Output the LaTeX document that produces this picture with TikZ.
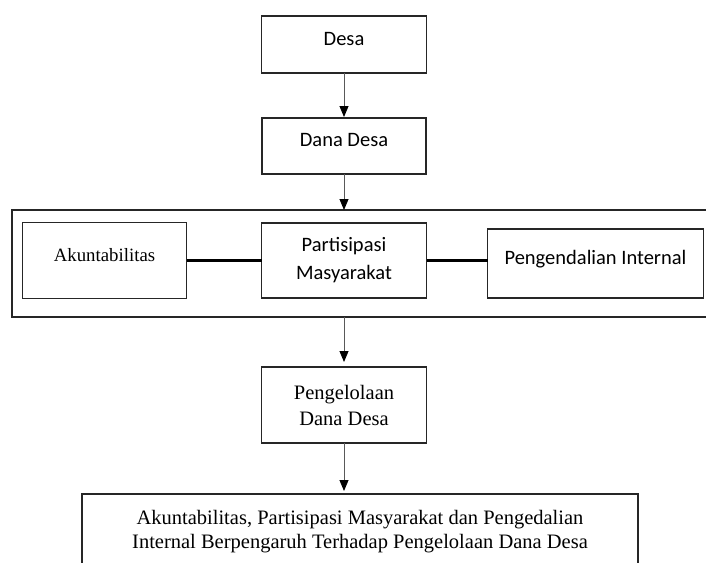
\documentclass[tikz,border=0pt]{standalone}
\usepackage{fontspec}
\setmainfont{Liberation Serif}
\newfontfamily\calibrifont{Carlito}
\usetikzlibrary{arrows.meta,positioning}

\begin{document}
\begin{tikzpicture}[
      x=1pt, y=-1pt,
      box_calibri/.style={
         rectangle,
         draw=black!85,
         line width=1.3pt,
         inner sep=0pt,
         outer sep=0pt,
         align=center,
         font=\calibrifont\fontsize{20.5}{28}\selectfont},
      box_times/.style={
         rectangle,
         draw=black!85,
         line width=1.3pt,
         inner sep=0pt,
         outer sep=0pt,
         align=center,
         font=\fontsize{20.5}{26}\selectfont},
      lift_text/.style={
         text height=13pt,
         text depth=12pt},
      arrow_thin/.style={
        -{Triangle[length=11pt,width=9pt,color=black]},
        draw=black!65,
        line width=0.9pt,
        },
      line_bold/.style={
        line width=3pt,
        draw=black,
        }
]
      \useasboundingbox (0,0) rectangle (706,562);

      %frame round the three factors
      \node[box_calibri,minimum width=700pt,minimum height=107pt] (frame) at (362,263.5) {};

      \node[box_calibri,lift_text,minimum width=165pt,minimum height=57pt] (desa) at (344,44.5) {Desa};
      \node[box_calibri,lift_text,minimum width=164pt,minimum height=56pt,below=45pt of desa] (dana) {Dana Desa};

      \node[box_calibri,minimum width=165pt,minimum height=75pt,below=49pt of dana] (partisipasi) {Partisipasi\\Masyarakat};
      \node[box_times,lift_text,font=\fontsize{18.8}{22}\selectfont,minimum width=164pt,minimum height=76pt,left=75pt of partisipasi] (akun) {Akuntabilitas};
      \node[box_calibri,lift_text,minimum width=216pt,minimum height=69pt,right=61pt of partisipasi,yshift=-3pt] (pengendalian) {Pengendalian Internal};

      \node[box_times,minimum width=165pt,minimum height=76pt,below=69pt of partisipasi] (pengelolaan) {Pengelolaan\\Dana Desa};
      \node[box_times,font=\fontsize{20.5}{24}\selectfont,minimum width=556pt,minimum height=76pt,below=51pt of pengelolaan,xshift=16pt] (hasil) {Akuntabilitas, Partisipasi Masyarakat dan Pengedalian\\Internal Berpengaruh Terhadap Pengelolaan Dana Desa};

    \foreach \i/\j/\s in {% start/end/gap
      desa.south/dana.north/1pt,
      dana.south/dana.south |- frame.north/0pt,
      pengelolaan.north |- frame.south/pengelolaan.north/5pt,
      pengelolaan.south/pengelolaan.south |- hasil.north/3pt}
      \draw [arrow_thin,shorten >=\s] (\i) -- (\j);

    \foreach \i/\j in {
      akun.east/partisipasi.west,
      partisipasi.east/partisipasi.east -| pengendalian.west}
      \draw [line_bold] (\i) -- (\j);
\end{tikzpicture}
\end{document}
